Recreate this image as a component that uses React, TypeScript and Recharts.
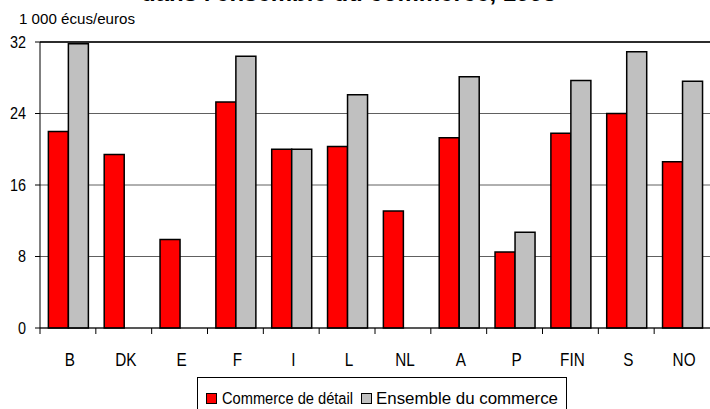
import { BarChart, Bar, XAxis, YAxis, CartesianGrid, Legend, ReferenceLine } from 'recharts';

const categories = ['B', 'DK', 'E', 'F', 'I', 'L', 'NL', 'A', 'P', 'FIN', 'S', 'NO'];
const detail = [22.0, 19.4, 9.9, 25.3, 20.0, 20.3, 13.1, 21.3, 8.5, 21.8, 24.0, 18.6];
const ensemble = [31.8, null, null, 30.4, 20.0, 26.1, null, 28.1, 10.7, 27.7, 30.9, 27.6];
const yTicks = [0, 8, 16, 24, 32];

const data = categories.map((c, i) => ({ pays: c, detail: detail[i], ensemble: ensemble[i] }));

const FONT = "'Liberation Sans', Arial, sans-serif";
const TICK_SIZE = 6;
const TICK_MARGIN = 19;

// label + tick mark at the left edge of each category (Excel style)
function CatTick(props: any) {
  const { x, y, payload } = props;
  const half = payload?.offset ?? 670 / 12 / 2;
  const y0 = y - TICK_MARGIN - TICK_SIZE;
  return (
    <g>
      <line x1={x - half} x2={x - half} y1={y0} y2={y0 + TICK_SIZE} stroke="#000" />
      <g transform={`translate(${x + 2},${y}) scale(0.85,1)`}>
        <text x={0} y={0} dy="0.71em" textAnchor="middle" fill="#000" fontSize={18} fontFamily={FONT}>
          {payload.value}
        </text>
      </g>
    </g>
  );
}

function ValTick(props: any) {
  const { x, y, payload } = props;
  return (
    <g transform={`translate(${x},${y}) scale(0.9,1)`}>
      <text x={0} y={0} dy="0.36em" textAnchor="end" fill="#000" fontSize={16} fontFamily={FONT}>
        {payload.value}
      </text>
    </g>
  );
}

function LegendBox() {
  return (
    <svg width={371} height={40} style={{ display: 'block' }}>
      <rect x={0.5} y={0.5} width={369} height={45} fill="#fff" stroke="#000" />
      <rect x={9.5} y={16.5} width={10} height={10} fill="#ff0000" stroke="#000" />
      <text x={25} y={27} fontSize={16} fontFamily={FONT} fill="#000" textLength={131} lengthAdjust="spacingAndGlyphs">
        Commerce de détail
      </text>
      <rect x={164.5} y={16.5} width={10} height={10} fill="#c0c0c0" stroke="#000" />
      <text x={179} y={27} fontSize={16} fontFamily={FONT} fill="#000" textLength={182} lengthAdjust="spacingAndGlyphs">
        Ensemble du commerce
      </text>
    </svg>
  );
}

export default function App() {
  return (
    <div style={{ position: 'absolute', left: 0, top: 0, width: 710, height: 409, overflow: 'hidden', background: '#fff' }}>
      <div
        style={{
          position: 'absolute',
          left: 141,
          top: -19,
          fontFamily: FONT,
          fontWeight: 'bold',
          fontSize: 24,
          lineHeight: '24px',
          whiteSpace: 'nowrap',
        }}
      >
        dans l'ensemble du commerce, 1995
      </div>
      <svg width={160} height={30} style={{ position: 'absolute', left: 0, top: 0 }}>
        <text x={19} y={24} fontSize={14} fontFamily={FONT} fill="#000" textLength={116} lengthAdjust="spacingAndGlyphs">
          1 000 écus/euros
        </text>
      </svg>
      <BarChart
        width={710}
        height={409}
        data={data}
        margin={{ top: 42, right: 0, left: 0, bottom: 41 }}
        barCategoryGap="15%"
        barGap={0}
      >
        <CartesianGrid vertical={false} stroke="#606060" />
        <ReferenceLine y={32} stroke="#000" strokeWidth={1.5} />
        <XAxis
          dataKey="pays"
          height={40}
          axisLine={{ stroke: '#000' }}
          tickLine={{ stroke: 'none' }}
          tickSize={TICK_SIZE}
          tickMargin={TICK_MARGIN}
          interval={0}
          tick={<CatTick />}
        />
        <YAxis
          width={40}
          domain={[0, 32]}
          ticks={yTicks}
          interval={0}
          axisLine={{ stroke: '#000' }}
          tickLine={{ stroke: '#000' }}
          tickSize={5}
          tickMargin={9}
          tick={<ValTick />}
        />
        <Legend
          layout="horizontal"
          verticalAlign="middle"
          align="center"
          wrapperStyle={{ left: 197, top: 377, width: 371, height: 40 }}
          content={() => <LegendBox />}
        />
        <Bar dataKey="detail" fill="#ff0000" stroke="#000" strokeWidth={1.5} isAnimationActive={false} />
        <Bar dataKey="ensemble" fill="#c0c0c0" stroke="#000" strokeWidth={1.5} isAnimationActive={false} />
      </BarChart>
    </div>
  );
}
